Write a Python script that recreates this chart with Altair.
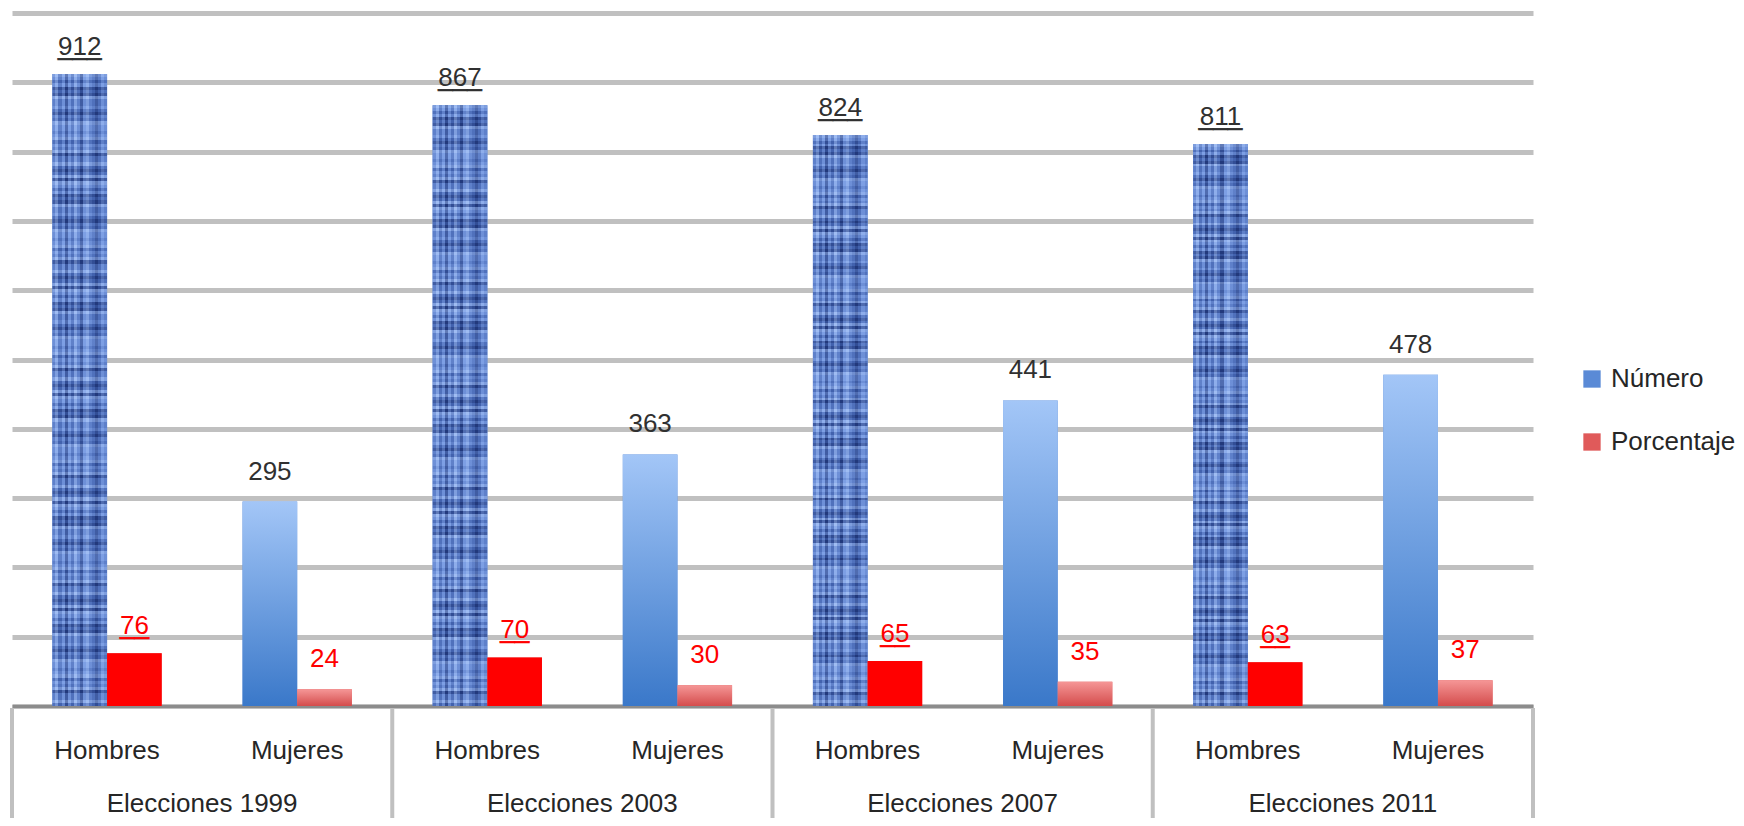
import altair as alt
import pandas as pd

elections = ["Elecciones 1999", "Elecciones 2003", "Elecciones 2007", "Elecciones 2011"]
sexes = ["Hombres", "Mujeres"]
series = ["Número", "Porcentaje"]
numero_hombres = [912, 867, 824, 811]
numero_mujeres = [295, 363, 441, 478]
porcentaje_hombres = [76, 70, 65, 63]
porcentaje_mujeres = [24, 30, 35, 37]

rows = []
for i, e in enumerate(elections):
    pairs = [("Hombres", numero_hombres[i], porcentaje_hombres[i]),
             ("Mujeres", numero_mujeres[i], porcentaje_mujeres[i])]
    for s, num, pct in pairs:
        key = f"{e}|{s}"
        rows.append(dict(election=e, sex=s, key=key, series="Número", value=num))
        rows.append(dict(election=e, sex=s, key=key, series="Porcentaje", value=pct))
df = pd.DataFrame(rows)
df["label"] = df["value"].astype(str)
df["underline"] = df["label"].map(lambda t: "_" * len(t))
key_order = [f"{e}|{s}" for e in elections for s in sexes]

groups = pd.DataFrame({"election": elections, "key": [f"{e}|Hombres" for e in elections]})
last_edge = pd.DataFrame({"key": [f"{elections[-1]}|Mujeres"]})

FONT = "Liberation Sans"
W, H = 1521, 693

x_scale = alt.Scale(domain=key_order, paddingInner=0, paddingOuter=0)
x_axis = alt.Axis(title=None, labelExpr="split(datum.value, '|')[1]", ticks=False,
                  domain=True, domainColor="#8c8c8c", domainWidth=3, grid=False,
                  labelFont=FONT, labelFontSize=26, labelColor="#262626",
                  labelPadding=52, labelBaseline="alphabetic", labelAngle=0)
x_enc = alt.X("key:N", sort=key_order, scale=x_scale, axis=x_axis)
xo_enc = alt.XOffset("series:N", scale=alt.Scale(domain=series, paddingOuter=0.74, paddingInner=0))
y_enc = alt.Y("value:Q", scale=alt.Scale(domain=[0, 1000], nice=False),
              axis=alt.Axis(title=None, labels=False, ticks=False, domain=False, tickCount=10,
                            gridColor="#c0c0c0", gridWidth=5))

base = alt.Chart(df)

legend_bars = base.mark_bar().encode(
    x=x_enc, xOffset=xo_enc, y=y_enc,
    color=alt.Color("series:N", scale=alt.Scale(domain=series, range=["#5a8ad6", "#e05a5a"]),
                    legend=alt.Legend(title=None, orient="none", legendX=1567, legendY=353,
                                      symbolType="square", symbolSize=300, labelFont=FONT,
                                      labelFontSize=26, labelColor="#262626", rowPadding=37,
                                      labelOffset=6, symbolStrokeWidth=0)),
)

blue_grad = alt.Gradient(gradient="linear", x1=0, y1=0, x2=0, y2=1,
                         stops=[alt.GradientStop(offset=0, color="#a3c6f7"),
                                alt.GradientStop(offset=1, color="#3a78c9")])
red_grad = alt.Gradient(gradient="linear", x1=0, y1=0, x2=0, y2=1,
                        stops=[alt.GradientStop(offset=0, color="#f59696"),
                               alt.GradientStop(offset=1, color="#d44c4c")])

# speckled texture for the "Hombres / Número" bars (style only): hard-stop stripes
tex_palette = ["#22397c", "#4262ae", "#5e80ca", "#7d9fe4", "#9fbcf2"]
tex_pattern = "2413031420342101324023143012403214"

def stripes(n, horizontal, step, shift):
    stops = []
    for i in range(n):
        c = tex_palette[int(tex_pattern[(i * step + shift) % len(tex_pattern)])]
        stops.append(alt.GradientStop(offset=i / n, color=c))
        stops.append(alt.GradientStop(offset=(i + 1) / n, color=c))
    if horizontal:
        return alt.Gradient(gradient="linear", x1=0, y1=0, x2=1, y2=0, stops=stops)
    return alt.Gradient(gradient="linear", x1=0, y1=0, x2=0, y2=1, stops=stops)

tex_cols = stripes(18, True, 1, 0)
tex_rows = stripes(200, False, 3, 7)

def bars(sex, ser, fill, opacity=1.0):
    return base.transform_filter(
        (alt.datum.sex == sex) & (alt.datum.series == ser)
    ).mark_bar(fill=fill, opacity=opacity).encode(x=x_enc, xOffset=xo_enc, y=y_enc)

hn_a = bars("Hombres", "Número", tex_cols)
hn_b = bars("Hombres", "Número", tex_rows, 0.5)
mn = bars("Mujeres", "Número", blue_grad)
hp = bars("Hombres", "Porcentaje", "#ff0000")
mp = bars("Mujeres", "Porcentaje", red_grad)

def fill_by_series(ch):
    return ch("series:N", scale=alt.Scale(domain=series, range=["#303030", "#ff0000"]), legend=None)

lab_h = base.transform_filter(alt.datum.sex == "Hombres").mark_text(
    font=FONT, fontSize=26, baseline="alphabetic", dy=-19
).encode(x=x_enc, xOffset=xo_enc, y=y_enc, text="label:N", fill=fill_by_series(alt.Fill))
und_h = base.transform_filter(alt.datum.sex == "Hombres").mark_text(
    font=FONT, fontSize=26, baseline="alphabetic", dy=-19, strokeWidth=0.6
).encode(x=x_enc, xOffset=xo_enc, y=y_enc, text="underline:N",
         fill=fill_by_series(alt.Fill), stroke=fill_by_series(alt.Stroke))
lab_m = base.transform_filter(alt.datum.sex == "Mujeres").mark_text(
    font=FONT, fontSize=26, baseline="alphabetic", dy=-22
).encode(x=x_enc, xOffset=xo_enc, y=y_enc, text="label:N", fill=fill_by_series(alt.Fill))

elec_text = alt.Chart(groups).mark_text(
    font=FONT, fontSize=26, baseline="alphabetic", color="#262626"
).encode(x=alt.X("key:N", sort=key_order, scale=x_scale, axis=x_axis, bandPosition=1),
         y=alt.value(H + 106), text="election:N")

vlines = alt.Chart(groups).mark_rule(color="#c0c0c0", strokeWidth=4).encode(
    x=alt.X("key:N", sort=key_order, scale=x_scale, axis=x_axis, bandPosition=0),
    y=alt.value(H + 2), y2=alt.value(H + 140))
vline_end = alt.Chart(last_edge).mark_rule(color="#c0c0c0", strokeWidth=4).encode(
    x=alt.X("key:N", sort=key_order, scale=x_scale, axis=x_axis, bandPosition=1),
    y=alt.value(H + 2), y2=alt.value(H + 140))

chart = alt.layer(
    legend_bars, hn_a, hn_b, mn, hp, mp, und_h, lab_h, lab_m, elec_text, vlines, vline_end
).properties(
    width=W, height=H,
    autosize=alt.AutoSizeParams(type="none"),
    padding={"left": 4, "top": 5, "right": 203, "bottom": 112},
).configure_view(stroke=None)

chart.save("out.html", embed_options={"renderer": "svg", "actions": False})
